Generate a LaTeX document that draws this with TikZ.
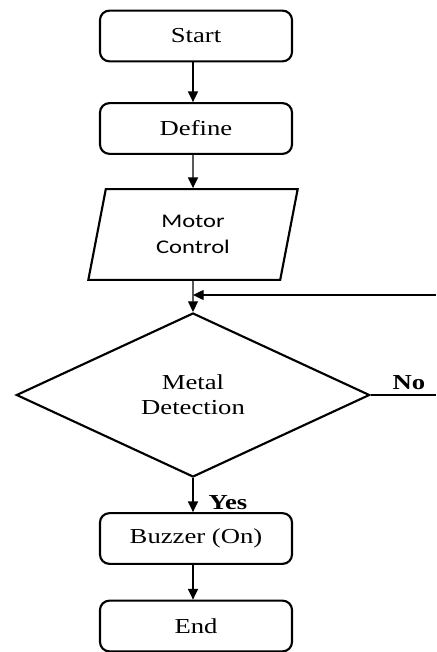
\documentclass[tikz,border=0pt]{standalone}
\usepackage{fontspec}
\setmainfont{Liberation Serif}[FakeStretch=1.25]
\newfontfamily\calfont{Carlito}[FakeStretch=1.27]
\usetikzlibrary{shapes.geometric,arrows.meta}
\tikzset{
  box/.style={draw,line width=1.6pt,rounded corners=7pt,minimum width=144pt,minimum height=38pt,inner sep=0pt,font=\fontsize{16}{19}\selectfont},
  flow/.style={line width=1pt,-{Triangle[width=7.5pt,length=8pt]}},
  plain/.style={line width=1pt},
  lbl/.style={font=\bfseries\fontsize{16}{19}\selectfont,inner sep=0pt}
}
\begin{document}
\begin{tikzpicture}[x=0.75pt,y=-0.75pt]
\useasboundingbox (0,0) rectangle (436,652);
\node[box] (start) at (196,36) {Start};
\node[box] (define) at (196,128.5) {Define};
\node[draw,line width=1.6pt,trapezium,trapezium stretches body,trapezium left angle=66,trapezium right angle=114,minimum width=157pt,minimum height=68pt,inner sep=0pt,align=center,font=\calfont\fontsize{14.5}{20}\selectfont] (motor) at (193,234.5) {Motor\\Control};
\node[draw,line width=1.6pt,diamond,minimum width=265pt,minimum height=123pt,inner sep=0pt,align=center,font=\fontsize{16}{19}\selectfont] (detect) at (193,395) {Metal\\Detection};
\node[box] (buzzer) at (196,538.5) {Buzzer (On)};
\node[box] (end) at (196,626) {End};
\coordinate (join) at (193,295);
\coordinate (fb) at (436,295);
\coordinate (noend) at (436,395);
\draw[flow] (start.south -| 193,0) -- (define.north -| 193,0);
\draw[flow] (define.south -| 193,0) -- (motor.north);
\draw[flow] (motor.south) -- (detect.north);
\draw[flow] (fb) -- (join);
\draw[plain] (detect.east) -- (noend);
\node[lbl] (no) at (409,383) {No};
\draw[flow] (detect.south) -- (buzzer.north -| detect.south);
\node[lbl] (yes) at (228,503) {Yes};
\draw[flow] (buzzer.south -| 193,0) -- (end.north -| 193,0);
\end{tikzpicture}
\end{document}
